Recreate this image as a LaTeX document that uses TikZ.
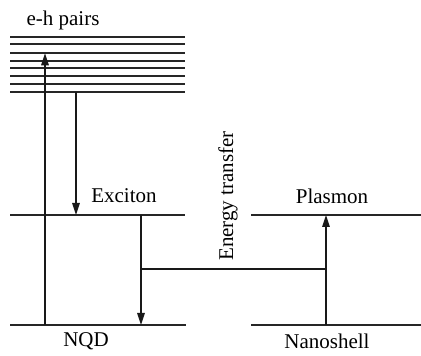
\documentclass[tikz,border=0pt]{standalone}
\usepackage{fontspec}
\setmainfont{Liberation Serif}
\usetikzlibrary{arrows.meta}
\begin{document}
\begin{tikzpicture}[x=1pt,y=1pt,
  level/.style={line width=1.8pt,draw=black!85},
  conn/.style={line width=1.6pt,draw=black!90},
  arr/.style={conn,-{Triangle[length=12pt,width=7.5pt]}},
  lbl/.style={font=\fontsize{21}{25}\selectfont,inner sep=0pt,anchor=base}]
\useasboundingbox (0,0) rectangle (421,356);
% e-h pair levels
\foreach \y/\n in {318.7/1,311.7/2,302.7/3,295.3/4,288/5,280.3/6,271.7/7,264.3/8}{
  \coordinate (ehL\n) at (10,\y);
  \coordinate (ehR\n) at (185,\y);
  \draw[level] (ehL\n) -- (ehR\n);
}
% levels
\coordinate (exL) at (10,141);   \coordinate (exR) at (185,141);
\coordinate (gL) at (10,31);     \coordinate (gR) at (186,31);
\coordinate (plL) at (251,141);  \coordinate (plR) at (421,141);
\coordinate (nsL) at (251,31);   \coordinate (nsR) at (421,31);
\draw[level] (exL) -- (exR);
\draw[level] (gL) -- (gR);
\draw[level] (plL) -- (plR);
\draw[level] (nsL) -- (nsR);
% labels
\node[lbl] (eh) at (63,330) {e-h pairs};
\node[lbl] (exc) at (124,153.3) {Exciton};
\node[lbl] (pla) at (332,152) {Plasmon};
\node[lbl] (nqd) at (86,9) {NQD};
\node[lbl] (nano) at (327,7) {Nanoshell};
\node[lbl,rotate=90] (et) at (233,160) {Energy transfer};
% arrows
\coordinate (a1s) at (45,31);   \coordinate (a1e) at (45,302.7);
\coordinate (a2s) at (76,264.3); \coordinate (a2e) at (76,141);
\coordinate (a3s) at (141,141);  \coordinate (a3e) at (141,31);
\coordinate (tr) at (141,87);    \coordinate (tp) at (326,87);
\coordinate (a4s) at (326,31);   \coordinate (a4e) at (326,141);
\draw[arr] (a1s) -- (a1e);
\draw[arr] (a2s) -- (a2e);
\draw[arr] (a3s) -- (a3e);
\draw[conn] (tr) -- (tp);
\draw[arr] (a4s) -- (a4e);
\end{tikzpicture}
\end{document}
